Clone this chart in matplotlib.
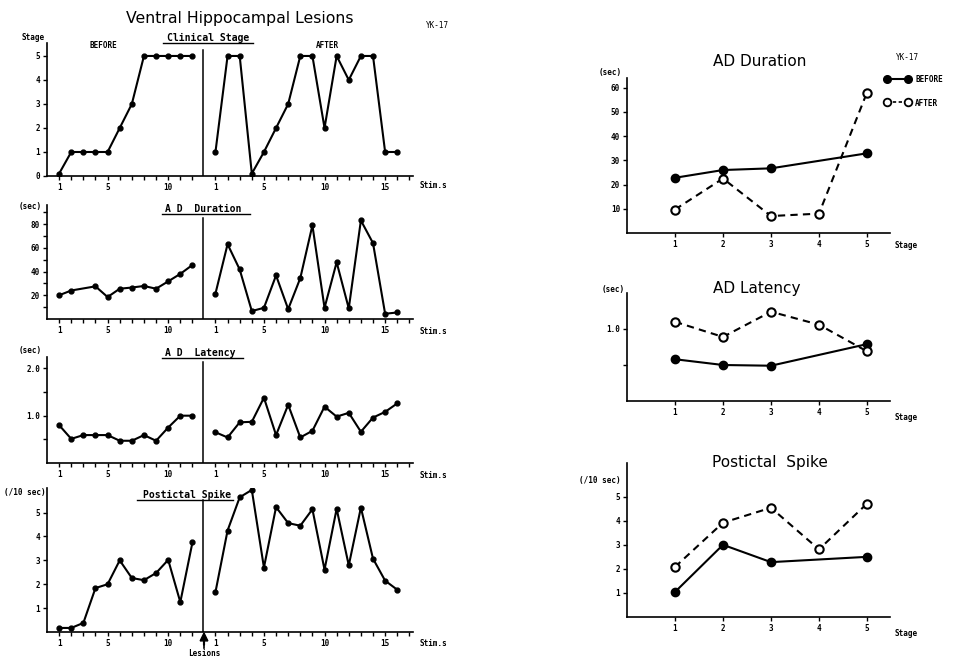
import matplotlib
matplotlib.use("Agg")
import matplotlib.pyplot as plt
from matplotlib.lines import Line2D
import numpy as np

W, H = 963, 659

# ---- left side: values per stimulation, before / after lesion ----
stage_before = [0.1, 1, 1, 1, 1, 2, 3, 5, 5, 5, 5, 5]
stage_after = [1, 5, 5, 0.1, 1, 2, 3, 5, 5, 2, 5, 4, 5, 5, 1, 1]

dur_before_stims = [1, 2, 4, 5, 6, 7, 8, 9, 10, 11, 12]
dur_before = [20, 24, 27.5, 18.5, 25.5, 26.5, 27.8, 25.5, 31.7, 38, 45.5]
dur_after = [21.4, 63, 41.7, 6.7, 9.4, 36.7, 8.3, 34.4, 78.9, 9.4, 47.8, 8.9,
             83, 63.9, 4.4, 5.5]

lat_before = [0.80, 0.51, 0.59, 0.59, 0.59, 0.47, 0.47, 0.59, 0.47, 0.75, 1.0, 1.0]
lat_after = [0.65, 0.54, 0.86, 0.87, 1.38, 0.59, 1.23, 0.54, 0.68, 1.19, 0.98,
             1.06, 0.66, 0.96, 1.08, 1.26]

spike_before = [0.17, 0.17, 0.38, 1.84, 2.0, 3.0, 2.26, 2.17, 2.47, 3.02, 1.25, 3.75]
spike_after = [1.67, 4.25, 5.64, 5.95, 2.70, 5.23, 4.56, 4.45, 5.14, 2.61, 5.16,
               2.79, 5.21, 3.07, 2.15, 1.77]

# ---- right side: values per clinical stage ----
stages = [1, 2, 3, 4, 5]
before_stages = [1, 2, 3, 5]
rdur_before = [22.8, 26, 26.7, 32.9]
rdur_after = [9.7, 22.5, 7.0, 8.0, 58]
rlat_before = [0.58, 0.50, 0.49, 0.79]
rlat_after = [1.10, 0.89, 1.24, 1.06, 0.69]
rspk_before = [1.04, 3.0, 2.28, 2.5]
rspk_after = [2.08, 3.92, 4.54, 2.81, 4.71]

MONO = "DejaVu Sans Mono"
SANS = "DejaVu Sans"
OFF = 12.9  # position of the lesion on the stimulation axis

fig = plt.figure(figsize=(W / 100, H / 100), dpi=100)


def px_axes(left, top, right, bottom):
    return fig.add_axes([left / W, 1 - bottom / H, (right - left) / W, (bottom - top) / H])


def ftext(x, y, s, size=6, family=MONO, **kw):
    fig.text(x / W, 1 - y / H, s, fontsize=size, family=family, **kw)


def fline(x0, x1, y0, y1, **kw):
    fig.add_artist(Line2D([x0 / W, x1 / W], [1 - y0 / H, 1 - y1 / H],
                          transform=fig.transFigure, **kw))


def style(ax):
    for s in ("top", "right"):
        ax.spines[s].set_visible(False)
    ax.spines["left"].set_linewidth(1.2)
    ax.spines["bottom"].set_linewidth(1.2)
    ax.tick_params(direction="out", length=3, width=1, labelsize=5.5, pad=2)
    for lab in ax.get_xticklabels() + ax.get_yticklabels():
        lab.set_family(MONO)
        lab.set_fontweight("bold")


def left_panel(top, bottom, ymax, before, after, ymajor, ylabels, yminor,
               before_x=None, div_top=0.93):
    ax = px_axes(47, top, 413, bottom)
    bx = before_x if before_x is not None else list(range(1, len(before) + 1))
    ax.plot(bx, before, "-o", color="black", lw=1.5, ms=3.5)
    ax_x = [OFF + k for k in range(1, len(after) + 1)]
    ax.plot(ax_x, after, "-o", color="black", lw=1.5, ms=3.5)
    ax.axvline(OFF, 0, div_top, color="black", lw=1.1)
    ax.set_xlim(0, 30.2)
    ax.set_ylim(0, ymax)
    major = [1, 5, 10] + [OFF + k for k in (1, 5, 10, 15)]
    ax.set_xticks(major)
    ax.set_xticklabels(["1", "5", "10", "1", "5", "10", "15"])
    ax.set_xticks(list(range(1, 13)) + [OFF + k for k in range(1, 18)], minor=True)
    ax.set_yticks(ymajor)
    ax.set_yticklabels(ylabels)
    ax.set_yticks(yminor, minor=True)
    style(ax)
    ax.tick_params(which="minor", direction="out", length=3, width=1)
    return ax


# Title
ftext(240, 18, "Ventral Hippocampal Lesions", size=11.3, family=SANS, ha="center", va="center")
ftext(437, 26, "YK-17", size=5.5, ha="center", va="center")

# Panel 1: clinical stage
left_panel(43, 176, 5.54, stage_before, stage_after, [0, 1, 2, 3, 4, 5],
           ["0", "1", "2", "3", "4", "5"], [], div_top=0.95)
ftext(33, 38, "Stage", size=5.5, ha="center", va="center", weight="bold")
ftext(103, 45, "BEFORE", size=5.5, ha="center", va="center", weight="bold")
ftext(327, 45, "AFTER", size=5.5, ha="center", va="center", weight="bold")
ftext(208, 38, "Clinical Stage", size=7, ha="center", va="center", weight="bold")
fline(163, 253, 43, 43, color="black", lw=1)
ftext(420, 186, "Stim.s", size=5.5, ha="left", va="center", weight="bold")

# Panel 2: AD duration
left_panel(205, 319, 96, dur_before, dur_after, [20, 40, 60, 80],
           ["20", "40", "60", "80"], [10, 30, 50, 70, 90], before_x=dur_before_stims,
           div_top=0.89)
ftext(30, 206, "(sec)", size=5.5, ha="center", va="center", weight="bold")
ftext(203, 209, "A D  Duration", size=7, ha="center", va="center", weight="bold")
fline(162, 250, 214, 214, color="black", lw=1)
ftext(420, 331, "Stim.s", size=5.5, ha="left", va="center", weight="bold")

# Panel 3: AD latency
left_panel(357, 463, 2.24, lat_before, lat_after, [1.0, 2.0], ["1.0", "2.0"],
           [0.5, 1.5], div_top=0.95)
ftext(30, 350, "(sec)", size=5.5, ha="center", va="center", weight="bold")
ftext(200, 353, "A D  Latency", size=7, ha="center", va="center", weight="bold")
fline(162, 243, 358, 358, color="black", lw=1)
ftext(420, 476, "Stim.s", size=5.5, ha="left", va="center", weight="bold")

# Panel 4: postictal spike
left_panel(488, 632, 6.03, spike_before, spike_after, [1, 2, 3, 4, 5],
           ["1", "2", "3", "4", "5"], [], div_top=0.92)
ftext(25, 492, "(/10 sec)", size=5.5, ha="center", va="center", weight="bold")
ftext(187, 495, "Postictal Spike", size=7, ha="center", va="center", weight="bold")
fline(137, 233, 500, 500, color="black", lw=1)
ftext(420, 643, "Stim.s", size=5.5, ha="left", va="center", weight="bold")
fig.add_artist(plt.Line2D([204 / W, 204 / W], [1 - 648 / H, 1 - 634 / H],
                          transform=fig.transFigure, color="black", lw=1.2))
fig.patches.append(matplotlib.patches.FancyArrow(
    204 / W, 1 - 645 / H, 0, 12 / H, width=0.0008, head_width=0.008,
    head_length=0.012, length_includes_head=True, color="black",
    transform=fig.transFigure, figure=fig))
ftext(204, 654, "Lesions", size=5.5, ha="center", va="center", weight="bold")


# ---- right panels ----
def right_panel(top, bottom, ymax, bvals, avals, yticks, ylabels):
    ax = px_axes(627, top, 890, bottom)
    ax.plot(before_stages, bvals, "-o", color="black", lw=1.5, ms=6,
            mfc="black", mec="black")
    ax.plot(stages, avals, "--o", color="black", lw=1.5, ms=6,
            mfc="white", mec="black", mew=1.5, dashes=(3.5, 2.5))
    ax.set_xlim(0, 5.48)
    ax.set_ylim(0, ymax)
    ax.set_xticks(stages)
    ax.set_yticks(yticks)
    ax.set_yticklabels(ylabels)
    style(ax)
    return ax


right_panel(78, 233, 64, rdur_before, rdur_after, [10, 20, 30, 40, 50, 60],
            ["10", "20", "30", "40", "50", "60"])
ftext(760, 61, "AD Duration", size=11, family=SANS, ha="center", va="center")
ftext(610, 72, "(sec)", size=5.5, ha="center", va="center", weight="bold")
ftext(895, 246, "Stage", size=5.5, ha="left", va="center", weight="bold")
ftext(907, 58, "YK-17", size=5.5, ha="center", va="center")

fig.add_artist(Line2D([887 / W, 908 / W], [1 - 79 / H, 1 - 79 / H], transform=fig.transFigure,
                      color="black", lw=1.5, marker="o", ms=5.5, mfc="black"))
ftext(915, 80, "BEFORE", size=5.5, ha="left", va="center", weight="bold")
fig.add_artist(Line2D([887 / W, 908 / W], [1 - 102 / H, 1 - 102 / H], transform=fig.transFigure,
                      color="black", lw=1.2, ls="--", dashes=(2, 1.5), marker="o", ms=5.5,
                      mfc="white", mew=1.3))
ftext(915, 103, "AFTER", size=5.5, ha="left", va="center", weight="bold")

right_panel(293, 401, 1.5, rlat_before, rlat_after, [0.5, 1.0], ["", "1.0"])
ftext(757, 289, "AD Latency", size=11, family=SANS, ha="center", va="center")
ftext(613, 290, "(sec)", size=5.5, ha="center", va="center", weight="bold")
ftext(895, 417, "Stage", size=5.5, ha="left", va="center", weight="bold")

right_panel(463, 617, 6.4, rspk_before, rspk_after, [1, 2, 3, 4, 5],
            ["1", "2", "3", "4", "5"])
ftext(770, 462, "Postictal  Spike", size=11, family=SANS, ha="center", va="center")
ftext(600, 481, "(/10 sec)", size=5.5, ha="center", va="center", weight="bold")
ftext(895, 633, "Stage", size=5.5, ha="left", va="center", weight="bold")

fig.savefig("out.png", dpi=100, facecolor="white")
